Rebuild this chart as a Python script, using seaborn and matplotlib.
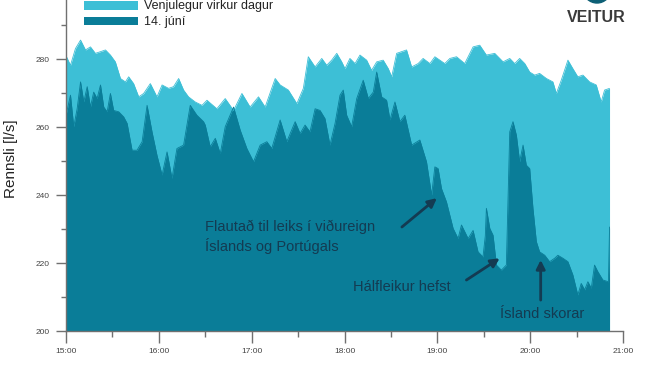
import matplotlib
matplotlib.use("Agg")
import matplotlib.pyplot as plt
from matplotlib.patches import Patch, Ellipse
import seaborn as sns

# ---- data (minutes after 15:00, flow in l/s) ----
weekday_t = [0, 2.9, 6.1, 9.4, 12.6, 15.8, 19.0, 22.3, 25.5, 28.7,
             31.9, 35.2, 38.4, 40.5, 43.7, 47.0, 50.2, 54.5, 58.8, 62.1,
             66.3, 69.5, 72.8, 76.0, 79.2, 83.5, 87.9, 91.1, 97.5, 102.9,
             108.3, 113.7, 119.0, 124.4, 128.7, 135.2, 138.4, 143.7, 149.2, 153.4,
             156.6, 161.0, 165.3, 168.5, 171.7, 175.0, 178.2, 180.3, 183.5, 186.8,
             190.0, 194.3, 197.5, 200.8, 205.0, 208.3, 210.5, 213.7, 220.1, 223.4,
             227.6, 230.8, 235.2, 238.4, 241.6, 244.8, 248.1, 252.4, 257.7, 263.1,
             267.4, 271.7, 277.1, 282.5, 286.8, 290.0, 293.2, 296.5, 299.7, 302.9,
             306.1, 310.5, 314.7, 316.9, 320.1, 324.4, 327.6, 330.8, 334.1, 338.4,
             342.7, 345.9, 348.1, 351.3]
weekday_v = [281.0, 278.2, 283.1, 285.6, 282.7, 283.6, 281.7, 282.2, 282.7, 281.2,
             279.2, 274.3, 273.3, 274.8, 272.8, 268.9, 269.9, 272.8, 268.9, 272.4,
             271.4, 271.9, 274.3, 270.9, 268.9, 267.4, 266.4, 267.9, 265.4, 268.4,
             264.9, 269.9, 265.9, 268.9, 265.9, 274.3, 272.4, 270.9, 266.9, 271.4,
             280.7, 277.7, 280.2, 278.2, 279.7, 281.7, 279.2, 277.2, 280.2, 278.7,
             281.2, 279.7, 276.7, 279.2, 279.7, 277.2, 274.8, 281.7, 282.7, 277.7,
             278.7, 280.2, 278.7, 280.7, 279.7, 278.7, 280.2, 280.7, 278.7, 283.6,
             284.1, 281.2, 281.7, 279.2, 280.2, 278.7, 280.2, 278.7, 276.2, 275.3,
             275.8, 274.3, 273.3, 269.9, 273.8, 279.7, 277.2, 274.8, 275.3, 273.3,
             272.4, 267.4, 270.9, 271.4]

june14_t = [0, 2.9, 5.0, 7.2, 9.4, 11.5, 13.7, 15.8, 17.9, 20.1,
            22.3, 24.4, 26.6, 28.7, 30.8, 34.1, 37.3, 39.5, 42.7, 45.9,
            49.2, 52.4, 55.6, 58.8, 62.1, 65.3, 68.5, 71.7, 76.0, 80.3,
            84.6, 88.9, 90.0, 93.2, 96.5, 99.7, 102.9, 108.3, 112.6, 116.9,
            121.2, 125.5, 129.8, 133.0, 138.4, 142.7, 148.1, 151.3, 154.5, 157.7,
            161.0, 164.2, 167.4, 170.6, 173.9, 177.1, 179.2, 181.4, 184.6, 187.9,
            192.1, 195.4, 198.6, 200.8, 204.0, 207.2, 209.4, 212.6, 215.8, 219.0,
            223.4, 228.7, 233.0, 236.3, 238.4, 240.5, 242.7, 245.9, 250.2, 253.4,
            255.6, 259.9, 263.1, 266.3, 269.5, 271.0, 271.7, 273.9, 276.0, 278.2,
            281.4, 284.6, 286.8, 288.9, 291.1, 293.2, 295.4, 297.5, 299.7, 301.8,
            304.0, 306.1, 309.4, 312.6, 315.8, 317.9, 321.2, 324.4, 327.6, 330.8,
            333.0, 335.2, 337.3, 339.5, 341.6, 343.7, 347.0, 350.6, 351.3]
june14_v = [263.5, 269.4, 260.1, 265.4, 273.3, 267.4, 271.9, 265.9, 270.3, 268.4,
            272.4, 265.9, 264.5, 269.9, 264.9, 264.5, 263.0, 261.1, 253.2, 253.2,
            255.7, 266.4, 258.6, 251.7, 245.9, 252.7, 244.9, 253.7, 254.7, 266.4,
            263.5, 261.6, 260.6, 254.2, 256.7, 252.2, 260.1, 265.9, 259.1, 253.7,
            249.8, 254.7, 255.7, 253.7, 262.1, 255.7, 261.6, 258.1, 260.6, 258.6,
            265.4, 264.9, 262.5, 254.7, 261.1, 269.4, 270.9, 263.5, 260.1, 268.4,
            273.8, 268.4, 270.3, 276.2, 268.9, 267.9, 262.1, 267.4, 261.6, 263.5,
            254.7, 256.2, 249.8, 240.0, 248.3, 247.8, 241.9, 238.0, 230.2, 227.2,
            231.2, 227.2, 229.6, 223.3, 221.8, 228.0, 236.1, 230.2, 228.2, 219.4,
            217.9, 219.4, 258.6, 261.6, 257.6, 249.8, 254.7, 248.8, 247.8, 236.1,
            226.3, 223.3, 222.3, 220.4, 221.4, 222.3, 221.4, 220.4, 216.5, 210.6,
            214.0, 212.1, 214.5, 212.6, 219.4, 217.5, 215.0, 214.5, 230.6]

series_labels = ["Venjulegur virkur dagur", "14. júní"]
hour_ticks = [0, 60, 120, 180, 240, 300, 360]
hour_labels = ["15:00", "16:00", "17:00", "18:00", "19:00", "20:00", "21:00"]
y_ticks = [200, 220, 240, 260, 280]
y_labels = ["200", "220", "240", "260", "280"]
y_title = "Rennsli [l/s]"
note_kickoff = "Flautað til leiks í viðureign\nÍslands og Portúgals"
note_half = "Hálfleikur hefst"
note_goal = "Ísland skorar"
brand = "VEITUR"

LIGHT = "#3DBFD6"
DARK = "#0A7D98"
NAVY = "#143B52"

sns.set_style("ticks")
plt.rcParams['font.family'] = ['Liberation Sans', 'DejaVu Sans']

fig = plt.figure(figsize=(6.5, 3.67), dpi=100)
ax = fig.add_axes([66 / 650, 36 / 367, (623 - 66) / 650, 331 / 367])

ax.fill_between(weekday_t, 200, weekday_v, color=LIGHT, lw=0)
sns.lineplot(x=weekday_t, y=weekday_v, color=LIGHT, lw=0.6, ax=ax,
             estimator=None, sort=False)
ax.fill_between(june14_t, 200, june14_v, color=DARK, lw=0)
sns.lineplot(x=june14_t, y=june14_v, color=DARK, lw=0.6, ax=ax,
             estimator=None, sort=False)

ax.set_xlim(0, 360)
ax.set_ylim(200, 297.4)
ax.set_xticks(hour_ticks)
ax.set_xticklabels(hour_labels)
ax.set_xticks([30, 90, 150, 210, 270, 330], minor=True)
ax.set_yticks(y_ticks)
ax.set_yticklabels(y_labels)
ax.set_yticks([210, 230, 250, 270, 290], minor=True)
ax.set_xlabel("")
ax.set_ylabel(y_title, fontsize=11, color="#222222")
ax.yaxis.set_label_coords(-0.086, 0.52)

for s in ["top", "right"]:
    ax.spines[s].set_visible(False)
for s in ["left", "bottom"]:
    ax.spines[s].set_color("#707070")
    ax.spines[s].set_linewidth(1.0)

ax.tick_params(axis="x", which="major", length=8.5, width=1, color="#707070",
               labelsize=6, labelcolor="#444444", pad=4)
ax.tick_params(axis="x", which="minor", length=4.3, width=1, color="#707070")
ax.tick_params(axis="y", which="major", length=7.2, width=1, color="#707070",
               labelsize=6, labelcolor="#444444", pad=4.3)
ax.tick_params(axis="y", which="minor", length=3.6, width=1, color="#707070")

# annotations
ax.text(90.0, 232.6, note_kickoff, fontsize=10.5, color=NAVY, ha="left",
        va="top", linespacing=1.25)
ax.annotate("", xy=(239.7, 239.1), xytext=(217.1, 230.6),
            arrowprops=dict(arrowstyle="-|>", color=NAVY, lw=2.0,
                            mutation_scale=13, shrinkA=0, shrinkB=0))
ax.text(185.5, 211.9, note_half, fontsize=10.5, color=NAVY, ha="left",
        va="baseline")
ax.annotate("", xy=(280.3, 221.4), xytext=(258.8, 215.0),
            arrowprops=dict(arrowstyle="-|>", color=NAVY, lw=2.0,
                            mutation_scale=13, shrinkA=0, shrinkB=0))
ax.text(280.3, 203.8, note_goal, fontsize=10.5, color=NAVY, ha="left",
        va="baseline")
ax.annotate("", xy=(306.8, 220.9), xytext=(306.8, 209.1),
            arrowprops=dict(arrowstyle="-|>", color=NAVY, lw=2.0,
                            mutation_scale=13, shrinkA=0, shrinkB=0))

# legend
handles = [Patch(facecolor=LIGHT, edgecolor="none"),
           Patch(facecolor=DARK, edgecolor="none")]
ax.legend(handles, series_labels, loc="upper left",
          bbox_to_anchor=(84 / 650, 1 - 0.5 / 367), bbox_transform=fig.transFigure,
          frameon=False, borderpad=0, borderaxespad=0, handlelength=4.3,
          handleheight=0.7, handletextpad=0.5, labelspacing=0.3, fontsize=9,
          labelcolor="#222222")

# brand mark
fig.patches.append(Ellipse((597 / 650, 378 / 367), 28 / 650, 28 / 367,
                           transform=fig.transFigure, color="#0D5F75",
                           clip_on=False))
fig.text(596 / 650, 1 - 17 / 367, brand, fontsize=11.5, fontweight="bold",
         color="#3A3A3A", ha="center", va="center")

fig.savefig("out.png", dpi=100)
